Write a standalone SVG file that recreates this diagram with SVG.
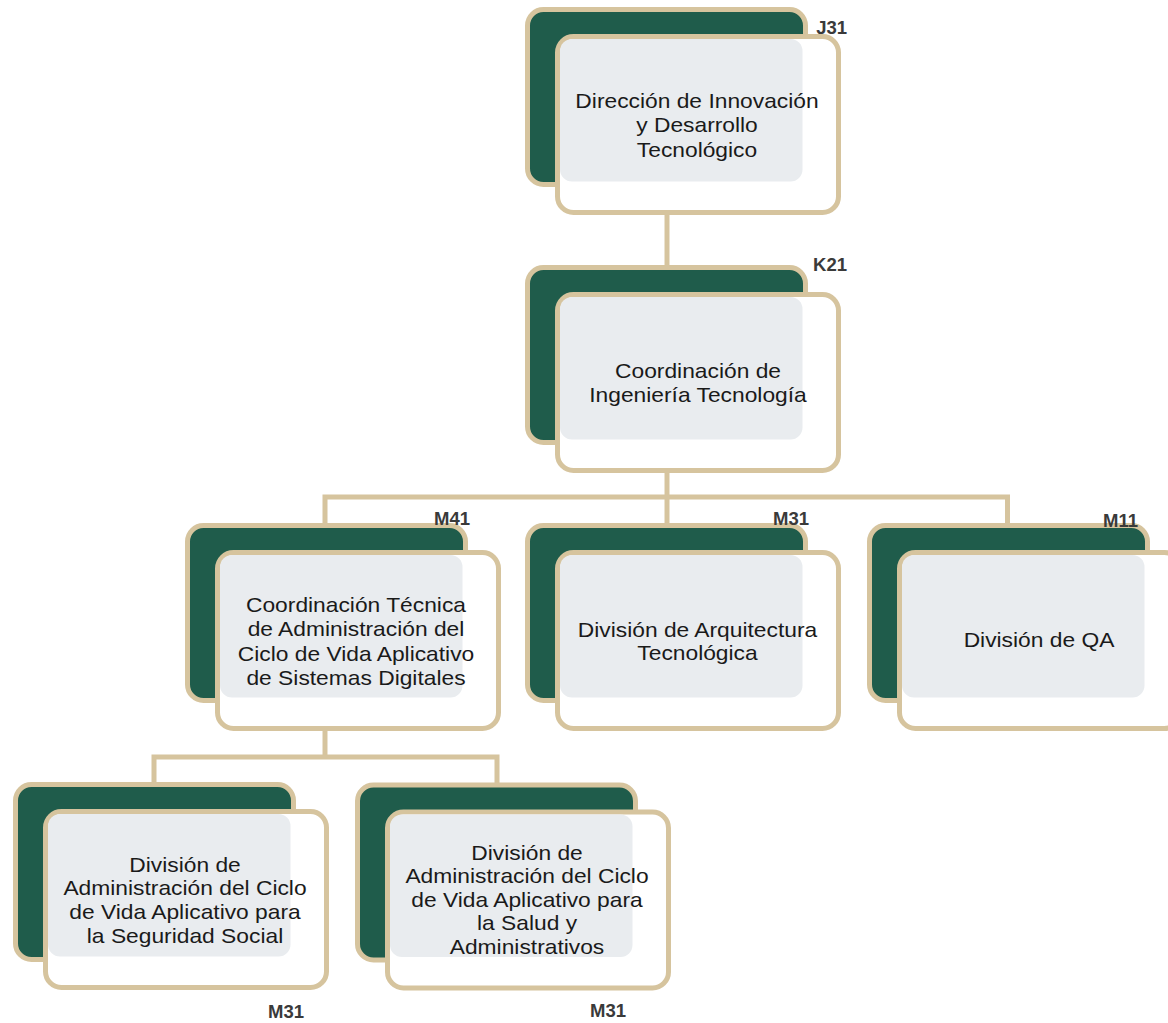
<svg xmlns="http://www.w3.org/2000/svg" width="1168" height="1023" viewBox="0 0 1168 1023">
<style>
.back{fill:#1f5c4b;stroke:#d6c49e;stroke-width:5}
.front{fill:#ffffff;stroke:#d6c49e;stroke-width:5}
.tint{fill:#e9ecef}
.conn{fill:none;stroke:#d6c49e;stroke-width:5}
.t{font-family:"Liberation Sans",Arial,sans-serif;font-size:20px;fill:#1a1a1a;text-anchor:middle}
.code{font-family:"Liberation Sans",Arial,sans-serif;font-size:18.5px;font-weight:bold;fill:#3a3a3a;text-anchor:end}
</style>
<rect width="1168" height="1023" fill="#ffffff"/>
<g id="connectors">
<path class="conn" d="M667 212 V268"/>
<path class="conn" d="M667 470 V526"/>
<path class="conn" d="M325 526 V497 H1007.5 V526"/>
<path class="conn" d="M325 728 V757"/>
<path class="conn" d="M154 785 V757 H497 V786"/>
</g>
<g id="n-j31">
<rect class="back" x="527.5" y="9.5" width="278" height="175" rx="16"/>
<rect class="front" x="557.5" y="36.5" width="281" height="176" rx="16"/>
<rect class="tint" x="560" y="39" width="242.5" height="142.5" rx="12"/>
<g transform="translate(697,0) scale(1.14,1)"><text class="t" x="0" y="108">Dirección de Innovación</text><text class="t" x="0" y="132.5">y Desarrollo</text><text class="t" x="0" y="157">Tecnológico</text></g>
<text class="code" x="847" y="34">J31</text>
</g>
<g id="n-k21">
<rect class="back" x="527.5" y="267.5" width="278" height="175" rx="16"/>
<rect class="front" x="557.5" y="294.5" width="281" height="176" rx="16"/>
<rect class="tint" x="560" y="297" width="242.5" height="142.5" rx="12"/>
<g transform="translate(698,0) scale(1.14,1)"><text class="t" x="0" y="378">Coordinación de</text><text class="t" x="0" y="402">Ingeniería Tecnología</text></g>
<text class="code" x="847" y="271">K21</text>
</g>
<g id="n-m41">
<rect class="back" x="187.5" y="525.5" width="278" height="175" rx="16"/>
<rect class="front" x="217.5" y="552.5" width="281" height="176" rx="16"/>
<rect class="tint" x="220" y="555" width="242.5" height="142.5" rx="12"/>
<g transform="translate(356,0) scale(1.14,1)"><text class="t" x="0" y="612">Coordinación Técnica</text><text class="t" x="0" y="636.5">de Administración del</text><text class="t" x="0" y="661">Ciclo de Vida Aplicativo</text><text class="t" x="0" y="685">de Sistemas Digitales</text></g>
<text class="code" x="470" y="525">M41</text>
</g>
<g id="n-m31a">
<rect class="back" x="527.5" y="525.5" width="278" height="175" rx="16"/>
<rect class="front" x="557.5" y="552.5" width="281" height="176" rx="16"/>
<rect class="tint" x="560" y="555" width="242.5" height="142.5" rx="12"/>
<g transform="translate(697.5,0) scale(1.14,1)"><text class="t" x="0" y="637">División de Arquitectura</text><text class="t" x="0" y="660">Tecnológica</text></g>
<text class="code" x="809" y="525">M31</text>
</g>
<g id="n-m11">
<rect class="back" x="869.5" y="525.5" width="278" height="175" rx="16"/>
<rect class="front" x="899.5" y="552.5" width="281" height="176" rx="16"/>
<rect class="tint" x="902" y="555" width="242.5" height="142.5" rx="12"/>
<g transform="translate(1039,0) scale(1.14,1)"><text class="t" x="0" y="647">División de QA</text></g>
<text class="code" x="1138" y="527">M11</text>
</g>
<g id="n-m31b">
<rect class="back" x="15.5" y="784.5" width="278" height="175" rx="16"/>
<rect class="front" x="45.5" y="811.5" width="281" height="176" rx="16"/>
<rect class="tint" x="48" y="814" width="242.5" height="142.5" rx="12"/>
<g transform="translate(185,0) scale(1.14,1)"><text class="t" x="0" y="872">División de</text><text class="t" x="0" y="895.5">Administración del Ciclo</text><text class="t" x="0" y="919.5">de Vida Aplicativo para</text><text class="t" x="0" y="943">la Seguridad Social</text></g>
<text class="code" x="304" y="1018">M31</text>
</g>
<g id="n-m31c">
<rect class="back" x="357.5" y="785" width="278" height="175" rx="16"/>
<rect class="front" x="387.5" y="812" width="281" height="176" rx="16"/>
<rect class="tint" x="390" y="814.5" width="242.5" height="142.5" rx="12"/>
<g transform="translate(527,0) scale(1.14,1)"><text class="t" x="0" y="860">División de</text><text class="t" x="0" y="883.5">Administración del Ciclo</text><text class="t" x="0" y="907">de Vida Aplicativo para</text><text class="t" x="0" y="930.5">la Salud y</text><text class="t" x="0" y="954">Administrativos</text></g>
<text class="code" x="626" y="1017">M31</text>
</g>
</svg>
